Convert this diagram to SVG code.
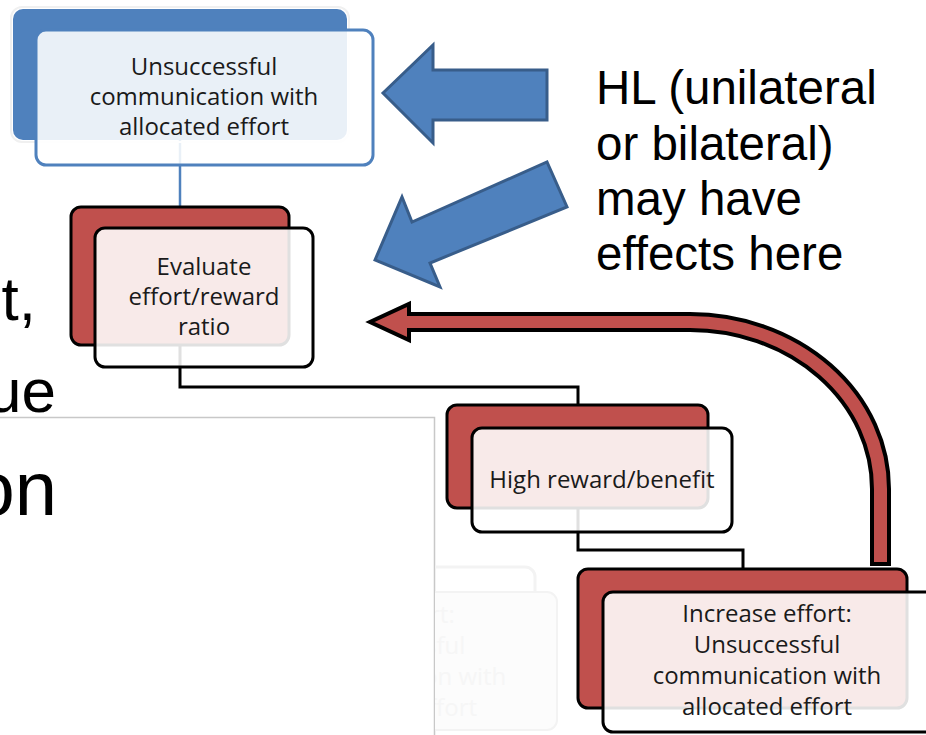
<svg xmlns="http://www.w3.org/2000/svg" width="926" height="735" viewBox="0 0 926 735">
<defs>
<style>
.lbl{font-family:"Open Sans","Noto Sans","Liberation Sans",sans-serif;font-size:24px;fill:#1a1a1a;text-anchor:middle}
.big{font-family:"Liberation Sans",Arial,sans-serif;fill:#000}
.backR{fill:#c0504d;stroke:#000;stroke-width:3}
.frontR{fill:#ffffff;fill-opacity:0.88;stroke:#000;stroke-width:3}
.conn{fill:none;stroke:#000;stroke-width:3}
.blueArrow{fill:#4f81bd;stroke:#385d8a;stroke-width:3;stroke-linejoin:miter}
</style>
<clipPath id="panelClip"><rect x="435" y="540" width="200" height="200"/></clipPath>
</defs>
<rect width="926" height="735" fill="#ffffff"/>

<g id="background-text">
<text class="big" x="36" y="320" font-size="62" text-anchor="end">t,</text>
<text class="big" x="56" y="412" font-size="62" text-anchor="end">ue</text>
<path d="M0 417.5 H434.5 V735" fill="none" stroke="#c8c8c8" stroke-width="1.5"/>
<text class="big" x="57" y="515" font-size="76" text-anchor="end">on</text>
</g>

<g id="ghost-node" clip-path="url(#panelClip)">
<rect x="410" y="567" width="125" height="141" rx="10" fill="none" stroke="#f3f3f3" stroke-width="3"/>
<rect x="420" y="592" width="137" height="138" rx="10" fill="#fcfcfc" stroke="#f3f3f3" stroke-width="2"/>
<g class="lbl" style="fill:#f6f6f6">
<text x="370" y="623">Increase effort:</text>
<text x="392" y="654">Unsuccessful</text>
<text x="392" y="685">communication with</text>
<text x="392" y="716">allocated effort</text>
</g>
</g>

<g id="connectors">
<path d="M180 140 V207" fill="none" stroke="#4f81bd" stroke-width="2.5"/>
<path class="conn" d="M180 345 V387 H578 V405"/>
<path class="conn" d="M578 508 V550 H743 V569"/>
</g>

<g id="node-unsuccessful">
<rect x="11" y="7" width="338" height="135" rx="11" fill="none" stroke="#f0f0f0" stroke-width="2"/>
<rect x="13" y="9" width="334" height="131" rx="10" fill="#4f81bd"/>
<rect x="36" y="30" width="337" height="135" rx="10" fill="#ffffff" fill-opacity="0.88" stroke="#4f81bd" stroke-width="3"/>
<text class="lbl" x="204" y="75">Unsuccessful</text>
<text class="lbl" x="204" y="105">communication with</text>
<text class="lbl" x="204" y="135">allocated effort</text>
</g>

<g id="node-evaluate">
<rect class="backR" x="71" y="207" width="218" height="138" rx="10"/>
<rect class="frontR" x="95" y="228" width="218" height="139" rx="10"/>
<text class="lbl" x="204" y="275">Evaluate</text>
<text class="lbl" x="204" y="305">effort/reward</text>
<text class="lbl" x="204" y="335">ratio</text>
</g>

<g id="node-high">
<rect class="backR" x="447" y="405" width="261" height="103" rx="10"/>
<rect class="frontR" x="472" y="428" width="260" height="104" rx="10"/>
<text class="lbl" x="602" y="488">High reward/benefit</text>
</g>

<g id="node-increase">
<rect class="backR" x="578" y="569" width="329" height="139" rx="10"/>
<rect class="frontR" x="603" y="592" width="335" height="140" rx="10"/>
<text class="lbl" x="767" y="622">Increase effort:</text>
<text class="lbl" x="767" y="653">Unsuccessful</text>
<text class="lbl" x="767" y="684">communication with</text>
<text class="lbl" x="767" y="715">allocated effort</text>
</g>

<g id="arrows">
<polygon class="blueArrow" points="383,93 433,45 433,70 547,70 547,120 433,120 433,143"/>
<polygon class="blueArrow" points="375,260 402,197 412,222 547,162 567,207 430,263 440,287"/>
<path d="M409 314 L690 314 A199 175 0 0 1 889 489 L889 564 L872 564 L872 489 A182 159 0 0 0 690 330 L409 330 L409 340 L370 322 L409 304 Z" fill="#c0504d" stroke="#000" stroke-width="4" stroke-linejoin="miter"/>
</g>

<g id="note">
<text class="big" x="596" y="104" font-size="47.5">HL (unilateral</text>
<text class="big" x="596" y="160" font-size="47.5">or bilateral)</text>
<text class="big" x="596" y="215" font-size="47.5">may have</text>
<text class="big" x="596" y="270" font-size="47.5">effects here</text>
</g>
</svg>
